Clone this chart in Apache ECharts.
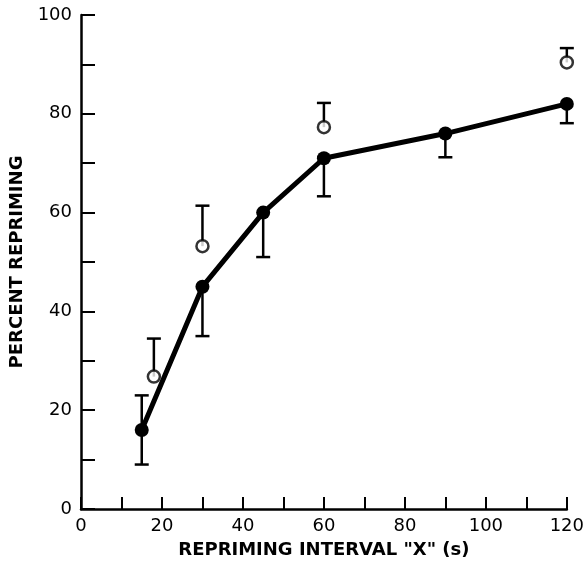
<!DOCTYPE html>
<html>
<head>
<meta charset="utf-8">
<script src="https://cdn.jsdelivr.net/npm/echarts@6/dist/echarts.min.js"></script>
<style>
  html, body { margin: 0; padding: 0; background: #fff; }
  #chart { width: 587px; height: 564px; }
</style>
</head>
<body>
<div id="chart"></div>
<script>
// filled circles: mean repriming, with error bars
const filledX = [15, 30, 45, 60, 90, 120];
const filledY = [16, 45, 60, 71, 76, 82];
const filledErrLow = [9, 35, 51, 63.3, 71.2, 78.1];
const filledErrHigh = [23, null, null, null, null, null];

// open circles
const openX = [18, 30, 60, 120];
const openY = [26.8, 53.2, 77.3, 90.4];
const openErrHigh = [34.5, 61.4, 82.2, 93.3];

const xTicks = [0, 20, 40, 60, 80, 100, 120];
const yTicks = [0, 20, 40, 60, 80, 100];

// error bar segments: [x, from (mean), to (end with cap)]
const bars = [];
for (let i = 0; i < filledX.length; i++) {
  bars.push([filledX[i], filledY[i], filledErrLow[i]]);
  if (filledErrHigh[i] != null) bars.push([filledX[i], filledY[i], filledErrHigh[i]]);
}
for (let i = 0; i < openX.length; i++) {
  bars.push([openX[i], openY[i], openErrHigh[i]]);
}

const chart = echarts.init(document.getElementById('chart'));
const labelFont = { color: '#000', fontFamily: 'DejaVu Sans', fontSize: 18 };
const titleFont = { color: '#000', fontFamily: 'DejaVu Sans', fontWeight: 'bold', fontSize: 18 };

chart.setOption({
  animation: false,
  grid: { left: 81, right: 17, top: 15, bottom: 54 },
  xAxis: {
    type: 'value',
    min: 0, max: 120, interval: 10,
    name: 'REPRIMING INTERVAL "X" (s)',
    nameLocation: 'middle',
    nameGap: 32,
    nameTextStyle: titleFont,
    axisLine: { onZero: false, lineStyle: { color: '#000', width: 2.5 } },
    axisTick: { inside: true, length: 12, lineStyle: { color: '#000', width: 2 } },
    axisLabel: Object.assign({
      margin: 8,
      formatter: v => xTicks.indexOf(v) >= 0 ? String(v) : ''
    }, labelFont),
    splitLine: { show: false }
  },
  yAxis: {
    type: 'value',
    min: 0, max: 100, interval: 10,
    name: 'PERCENT REPRIMING',
    nameLocation: 'middle',
    nameGap: 52,
    nameTextStyle: titleFont,
    axisLine: { show: true, onZero: false, lineStyle: { color: '#000', width: 2.5 } },
    axisTick: { show: true, inside: true, length: 14, lineStyle: { color: '#000', width: 2 } },
    axisLabel: Object.assign({
      margin: 9,
      formatter: v => yTicks.indexOf(v) >= 0 ? String(v) : ''
    }, labelFont),
    splitLine: { show: false }
  },
  series: [
    {
      type: 'custom',
      data: bars,
      z: 1,
      renderItem: function (params, api) {
        const x = api.value(0);
        const p0 = api.coord([x, api.value(1)]);
        const p1 = api.coord([x, api.value(2)]);
        const hw = 7;
        return {
          type: 'group',
          children: [
            { type: 'line', shape: { x1: p0[0], y1: p0[1], x2: p1[0], y2: p1[1] },
              style: { stroke: '#000', lineWidth: 2.5 } },
            { type: 'line', shape: { x1: p1[0] - hw, y1: p1[1], x2: p1[0] + hw, y2: p1[1] },
              style: { stroke: '#000', lineWidth: 2.5 } }
          ]
        };
      }
    },
    {
      type: 'line',
      data: filledX.map((x, i) => [x, filledY[i]]),
      z: 3,
      symbol: 'circle',
      symbolSize: 14,
      itemStyle: { color: '#000' },
      lineStyle: { color: '#000', width: 5 }
    },
    {
      type: 'scatter',
      data: openX.map((x, i) => [x, openY[i]]),
      z: 4,
      symbol: 'circle',
      symbolSize: 12,
      itemStyle: { color: '#fff', borderColor: '#000', borderWidth: 2.5 }
    }
  ]
});
</script>
</body>
</html>
